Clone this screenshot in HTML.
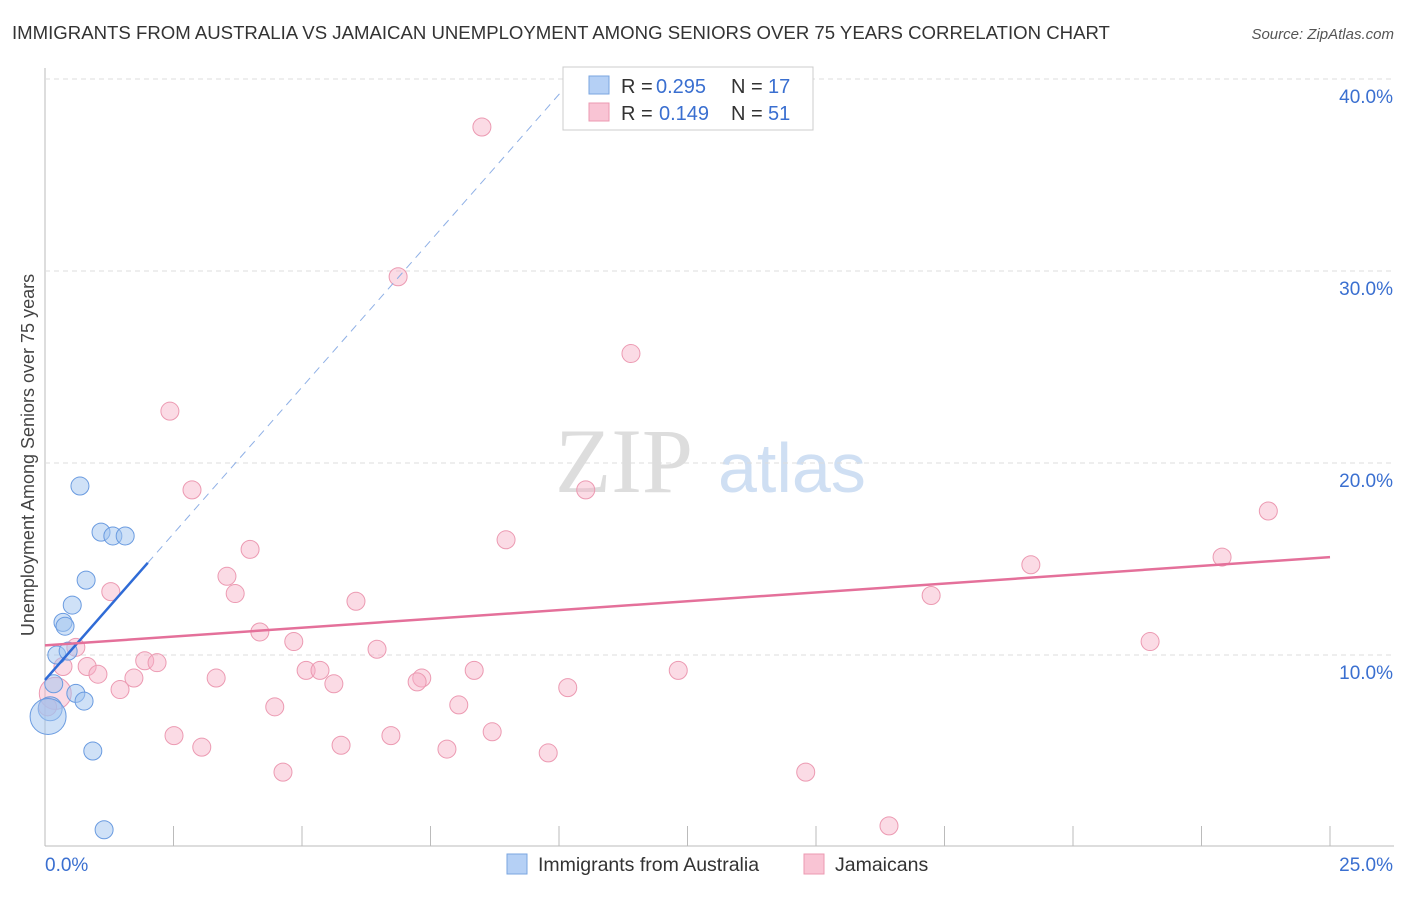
<!DOCTYPE html>
<html><head><meta charset="utf-8"><style>
body{margin:0;background:#fff;font-family:"Liberation Sans",sans-serif}
#wrap{position:relative;width:1406px;height:892px}
</style></head><body>
<div id="wrap">
<svg id="svg" width="1406" height="892">
<text x="12" y="39" font-size="18.6" fill="#333">IMMIGRANTS FROM AUSTRALIA VS JAMAICAN UNEMPLOYMENT AMONG SENIORS OVER 75 YEARS CORRELATION CHART</text>
<text x="1394" y="39" font-size="15" fill="#555" font-style="italic" text-anchor="end">Source: ZipAtlas.com</text>
<text x="555" y="492" font-size="92" fill="#ddd" font-family="Liberation Serif">ZIP</text>
<text x="718" y="492" font-size="70" fill="#cfdff3">atlas</text>
<text transform="translate(34,455) rotate(-90)" font-size="18" fill="#444" text-anchor="middle">Unemployment Among Seniors over 75 years</text>
<g id="grid"></g><g id="marks"></g>
<g>
<rect x="563" y="67" width="250" height="63" fill="#fff" stroke="#ccc"/>
<rect x="589" y="76" width="20" height="18" fill="#b5d0f5" stroke="#7aa6e0"/>
<rect x="589" y="103" width="20" height="18" fill="#f9c4d4" stroke="#ec9ab2"/>
<g font-size="20" fill="#333">
<text x="621" y="93">R =</text><text x="656" y="93" fill="#3a6fd0">0.295</text><text x="731" y="93">N =</text><text x="768" y="93" fill="#3a6fd0">17</text>
<text x="621" y="120">R =</text><text x="659" y="120" fill="#3a6fd0">0.149</text><text x="731" y="120">N =</text><text x="768" y="120" fill="#3a6fd0">51</text>
</g>
</g>
<g>
<rect x="507" y="854" width="20" height="20" fill="#b5d0f5" stroke="#7aa6e0"/>
<text x="538" y="871" font-size="19.5" fill="#333">Immigrants from Australia</text>
<rect x="804" y="854" width="20" height="20" fill="#f9c4d4" stroke="#ec9ab2"/>
<text x="835" y="871" font-size="19.5" fill="#333">Jamaicans</text>
</g>
</svg></div>
<script>
const yTicks=[10,20,30,40];
const xTickLabels=["0.0%","25.0%"];
const blueX=[0.68,1.09,1.32,1.56,0.8,0.53,0.35,0.39,0.23,0.45,0.17,0.6,0.76,0.1,0.06,0.93,1.15];
const blueY=[18.8,16.4,16.2,16.2,13.9,12.6,11.7,11.5,10.0,10.2,8.5,8.0,7.6,7.2,6.8,5.0,0.9];
const blueR=[9,9,9,9,9,9,9,9,9,9,9,9,9,12,18,9,9];
const pinkX=[8.5,6.87,11.4,2.43,2.86,10.52,23.8,8.97,3.99,22.9,19.18,3.54,1.28,3.7,17.24,6.05,4.18,4.84,21.5,6.46,0.6,0.35,0.82,1.94,2.18,1.03,5.08,5.35,8.35,12.32,3.33,1.73,7.33,5.62,7.24,10.17,1.46,0.2,4.47,8.05,2.51,8.7,6.73,3.05,5.76,7.82,9.79,4.63,14.8,16.42,0.05];
const pinkY=[37.5,29.7,25.7,22.7,18.6,18.6,17.5,16.0,15.5,15.1,14.7,14.1,13.3,13.2,13.1,12.8,11.2,10.7,10.7,10.3,10.4,9.4,9.4,9.7,9.6,9.0,9.2,9.2,9.2,9.2,8.8,8.8,8.8,8.5,8.6,8.3,8.2,8.0,7.3,7.4,5.8,6.0,5.8,5.2,5.3,5.1,4.9,3.9,3.9,1.1,7.3];
const pinkR=[9,9,9,9,9,9,9,9,9,9,9,9,9,9,9,9,9,9,9,9,9,9,9,9,9,9,9,9,9,9,9,9,9,9,9,9,9,16,9,9,9,9,9,9,9,9,9,9,9,9,9];
const blueLine=[0,8.7,2.0,14.8];
const pinkLine=[0,10.5,25,15.1];
const X=v=>45+v*51.4, Y=v=>847-v*19.2;
const NS="http://www.w3.org/2000/svg";
const grid=document.getElementById('grid'),marks=document.getElementById('marks');
function mk(t,a,p){const e=document.createElementNS(NS,t);for(const k in a)e.setAttribute(k,a[k]);p.appendChild(e);return e;}
mk('line',{x1:45,y1:68,x2:45,y2:846,stroke:'#bbb'},grid);
mk('line',{x1:45,y1:846,x2:1394,y2:846,stroke:'#bbb'},grid);
for(let i=0;i<=10;i++){const l=mk('line',{x1:X(i*2.5),x2:X(i*2.5),y1:826,y2:846,stroke:'#bbb'},grid);

}
yTicks.forEach(t=>{const l=mk('line',{x1:45,x2:1394,y1:Y(t),y2:Y(t),stroke:'#ddd','stroke-dasharray':'5,4'},grid);


const tx=mk('text',{x:1393,y:Y(t)+24,'font-size':19,fill:'#3a6fd0','text-anchor':'end'},grid);tx.textContent=t.toFixed(1)+'%';

});
xTickLabels.forEach((s,i)=>{const tx=mk('text',{x:i?1393:45,y:871,'font-size':19,fill:'#3a6fd0','text-anchor':i?'end':'start'},grid);tx.textContent=s;

});
pinkX.forEach((x,i)=>{const c=mk('circle',{cx:X(x),cy:Y(pinkY[i]),r:pinkR[i],fill:'rgba(246,176,198,0.45)',stroke:'#ec9ab2','stroke-width':1},marks);

});
blueX.forEach((x,i)=>{const c=mk('circle',{cx:X(x),cy:Y(blueY[i]),r:blueR[i],fill:'rgba(160,195,240,0.5)',stroke:'#6a9be0','stroke-width':1},marks);

});
const slope=(blueLine[3]-blueLine[1])/(blueLine[2]-blueLine[0]);
const xe=(40.4-blueLine[1])/slope;
const d=mk('line',{x1:X(blueLine[2]),y1:Y(blueLine[3]),x2:X(xe),y2:Y(40.4),stroke:'#8fb0e6','stroke-dasharray':'8,6'},marks);


const b=mk('line',{x1:X(blueLine[0]),y1:Y(blueLine[1]),x2:X(blueLine[2]),y2:Y(blueLine[3]),stroke:'#2f6bd6','stroke-width':2.5},marks);


const p=mk('line',{x1:X(pinkLine[0]),y1:Y(pinkLine[1]),x2:X(pinkLine[2]),y2:Y(pinkLine[3]),stroke:'#e4709a','stroke-width':2.5},marks);


</script></body></html>
